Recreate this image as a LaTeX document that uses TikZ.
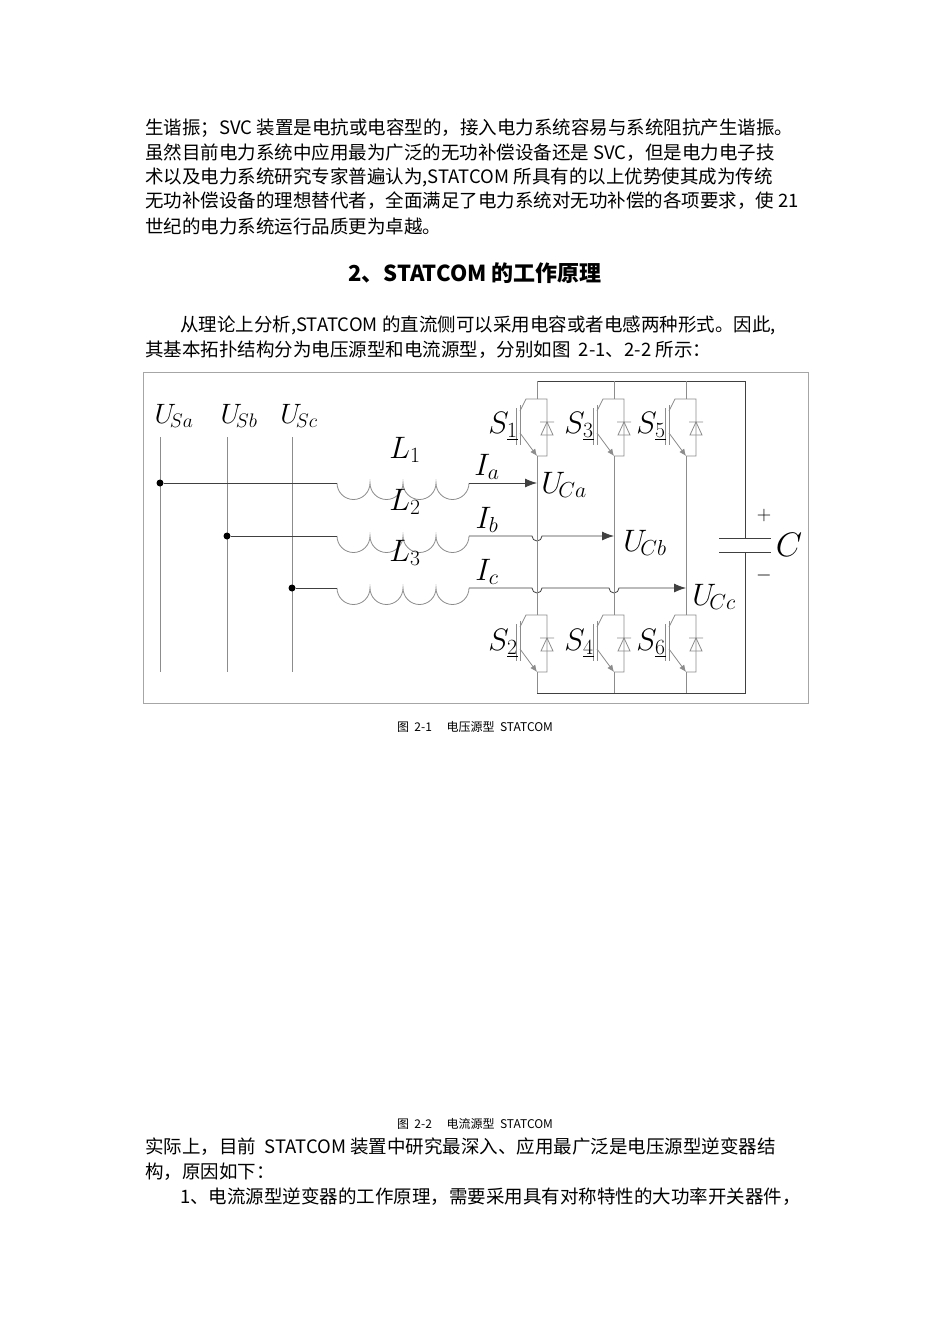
\RequirePackage{fix-cm}
\documentclass[tikz,border=0pt]{standalone}
\usepackage{fontspec}
\newfontfamily\cjk{Noto Sans CJK SC}
\usetikzlibrary{arrows.meta}
\tikzset{
 wire/.style={line width=0.8pt,black!75},
 gwire/.style={line width=0.8pt,black!45},
 body/.style={anchor=west,inner sep=0,font=\cjk\fontsize{18.5}{20}\selectfont},
 captxt/.style={inner sep=0,font=\cjk\fontsize{12}{14}\selectfont},
 lbl/.style={inner sep=0,font=\fontsize{31}{33}\selectfont},
 slbl/.style={inner sep=0,font=\fontsize{28}{30}\selectfont},
 dot/.style={circle,fill=black,inner sep=0,minimum size=7pt},
 sw/.pic={
  \draw[gwire] (-17,12)--(-11,0)--(10,0)--(10,57)--(0,57);
  \draw[gwire] (-17,6)--(-17,46) (-21,9)--(-21,46);
  \draw[gwire,-{Latex[length=7pt,width=6pt]}] (-17,34)--(0,57);
  \draw[gwire] (4,36)--(16,36)--(10,23)--cycle (3,23)--(17,23);
 }
}
\begin{document}
\begin{tikzpicture}[x=1pt,y=-1pt]
\useasboundingbox (0,0) rectangle (950,1344);
\fill[white] (0,0) rectangle (950,1344);
% text
\node[body] (t1) at (145,128) {生谐振；SVC 装置是电抗或电容型的，接入电力系统容易与系统阻抗产生谐振。};
\node[body] (t2) at (145,153) {虽然目前电力系统中应用最为广泛的无功补偿设备还是 SVC，但是电力电子技};
\node[body] (t3) at (145,177) {术以及电力系统研究专家普遍认为,STATCOM 所具有的以上优势使其成为传统};
\node[body] (t4) at (145,201) {无功补偿设备的理想替代者，全面满足了电力系统对无功补偿的各项要求，使 21};
\node[body] (t5) at (145,226) {世纪的电力系统运行品质更为卓越。};
\node[inner sep=0,font=\cjk\bfseries\fontsize{22}{24}\selectfont] (h) at (475,273) {2、STATCOM 的工作原理};
\node[body] (p1) at (180,325) {从理论上分析,STATCOM 的直流侧可以采用电容或者电感两种形式。因此,};
\node[body] (p2) at (145,350) {其基本拓扑结构分为电压源型和电流源型，分别如图 \ 2-1、2-2 所示：};
\node[captxt] (c1) at (475,727) {图 \ 2-1 \quad 电压源型 \ STATCOM};
\node[captxt] (c2) at (475,1124) {图 \ 2-2 \quad 电流源型 \ STATCOM};
\node[body] (q1) at (145,1147) {实际上，目前 \ STATCOM 装置中研究最深入、应用最广泛是电压源型逆变器结};
\node[body] (q2) at (145,1172) {构，原因如下：};
\node[body] (q3) at (180,1197) {1、电流源型逆变器的工作原理，需要采用具有对称特性的大功率开关器件，};
% frame
\draw[black!35,line width=0.8pt] (143,372) rectangle (808,703);
% source lines
\draw[gwire] (160,437)--(160,672) (227,437)--(227,672) (292,437)--(292,672);
\node[slbl] (usa) at (174,416) {$U_{\!Sa}$};
\node[slbl] (usb) at (239,416) {$U_{\!Sb}$};
\node[slbl] (usc) at (299,416) {$U_{\!Sc}$};
\node[dot] (da) at (160,483) {};
\node[dot] (db) at (227,536) {};
\node[dot] (dc) at (292,588) {};
% inductors
\foreach \y in {483,536,588}{
 \draw[gwire] (337,\y) arc[start angle=180,end angle=0,radius=16.5] arc[start angle=180,end angle=0,radius=16.5] arc[start angle=180,end angle=0,radius=16.5] arc[start angle=180,end angle=0,radius=16.5];
}
\draw[wire] (da)--(337,483);
\draw[wire] (db)--(337,536);
\draw[wire] (dc)--(337,588);
% phase lines with arrows
\draw[wire,-{Latex[length=12pt,width=9pt]}] (469,483)--(537,483);
\draw[wire,-{Latex[length=12pt,width=9pt]}] (469,536)--(532,536) arc[start angle=180,end angle=0,radius=5]--(614,536);
\draw[wire,-{Latex[length=12pt,width=9pt]}] (469,588)--(532,588) arc[start angle=180,end angle=0,radius=5]--(609,588) arc[start angle=180,end angle=0,radius=5]--(686,588);
\node[lbl] (l1) at (405,450) {$L_1$};
\node[lbl] (l2) at (405,502) {$L_2$};
\node[lbl] (l3) at (405,553) {$L_3$};
\node[lbl] (ia) at (487,467) {$I_a$};
\node[lbl] (ib) at (487,520) {$I_b$};
\node[lbl] (ic) at (487,572) {$I_c$};
\node[lbl] (uca) at (564,485) {$U_{\!Ca}$};
\node[lbl] (ucb) at (645,543) {$U_{\!Cb}$};
\node[lbl] (ucc) at (714,597) {$U_{\!Cc}$};
% rails
\draw[wire] (537,381)--(745,381)--(745,538);
\draw[wire] (745,552)--(745,693)--(537,693);
\foreach \x in {537,614,686}{
 \draw[gwire] (\x,381)--(\x,399) (\x,456)--(\x,615) (\x,672)--(\x,693);
 \pic at (\x,399) {sw};
 \pic at (\x,615) {sw};
}
\node[lbl] (s1) at (503,426) {$S_{\underline{1}}$};
\node[lbl] (s3) at (579,426) {$S_{\underline{3}}$};
\node[lbl] (s5) at (651,426) {$S_{\underline{5}}$};
\node[lbl] (s2) at (503,643) {$S_{\underline{2}}$};
\node[lbl] (s4) at (579,643) {$S_{\underline{4}}$};
\node[lbl] (s6) at (651,643) {$S_{\underline{6}}$};
% capacitor
\draw[wire] (719,538)--(771,538) (719,552)--(771,552);
\node[inner sep=0,font=\fontsize{20}{22}\selectfont] (plus) at (764,515) {$+$};
\node[inner sep=0,font=\fontsize{20}{22}\selectfont] (minus) at (764,575) {$-$};
\node[inner sep=0,font=\fontsize{34}{36}\selectfont] (cc) at (789,545) {$C$};
\end{tikzpicture}
\end{document}
